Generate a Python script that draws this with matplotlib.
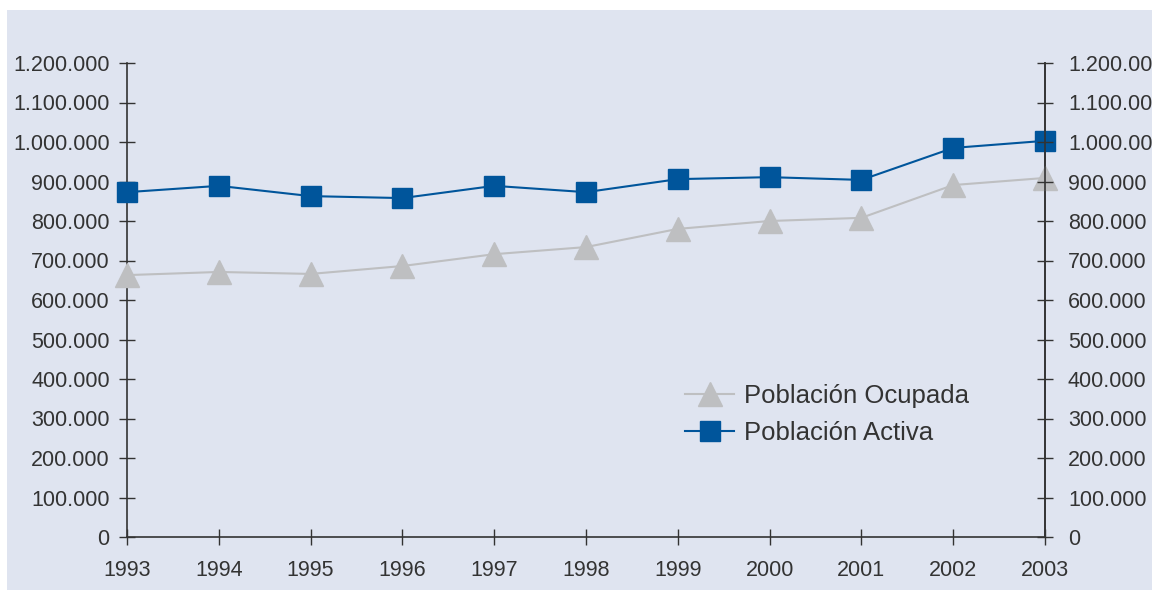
import matplotlib
matplotlib.use('Agg')
import matplotlib.pyplot as plt
from matplotlib.patches import Rectangle
from matplotlib.ticker import FuncFormatter, MultipleLocator

years = [1993, 1994, 1995, 1996, 1997, 1998, 1999, 2000, 2001, 2002, 2003]
ocupada = [663000, 671000, 666000, 686000, 716000, 734000, 780000, 800000, 808000, 891000, 909000]
activa = [873000, 889000, 863000, 858000, 889000, 873000, 906000, 911000, 904000, 985000, 1003000]

plt.rcParams['font.family'] = ['Liberation Sans', 'DejaVu Sans']
txt = '#333333'
bg = '#dfe4f0'

fig = plt.figure(figsize=(11.52, 5.91), dpi=100)
fig.patches.append(Rectangle((7/1152, 1/591), 1, (580)/591, transform=fig.transFigure,
                             facecolor=bg, edgecolor='none', zorder=-10))
ax = fig.add_axes([127/1152, (591-537)/591, (1045-127)/1152, (537-63)/591])
ax.set_facecolor('none')

ax.plot(years, ocupada, color='#bebfc1', lw=1.5, marker='^', markersize=17,
        label='Población Ocupada', clip_on=False, zorder=3)
ax.plot(years, activa, color='#00559b', lw=1.5, marker='s', markersize=14,
        label='Población Activa', clip_on=False, zorder=4)

ax.set_xlim(1993, 2003)
ax.set_ylim(0, 1200000)
ax.set_xticks(years)
ax.yaxis.set_major_locator(MultipleLocator(100000))
fmt = FuncFormatter(lambda v, p: f'{int(v):,}'.replace(',', '.'))
ax.yaxis.set_major_formatter(fmt)

ax.spines['top'].set_visible(False)
for s in ['left', 'bottom', 'right']:
    ax.spines[s].set_color(txt)
    ax.spines[s].set_linewidth(1.2)

# right-hand copy of the y axis (labels run off the page edge, as in the original)
ax2 = ax.twinx()
ax2.set_ylim(ax.get_ylim())
ax2.yaxis.set_major_locator(MultipleLocator(100000))
ax2.yaxis.set_major_formatter(fmt)
for s in ['top', 'left', 'bottom']:
    ax2.spines[s].set_visible(False)
ax2.spines['right'].set_color(txt)
ax2.spines['right'].set_linewidth(1.2)

ax.tick_params(axis='y', direction='inout', length=11, width=1, colors=txt,
               labelsize=15.5, pad=7)
ax2.tick_params(axis='y', direction='inout', length=11, width=1, colors=txt,
                labelsize=15.5, pad=11)
ax.tick_params(axis='x', direction='inout', length=11, width=1, colors=txt,
               labelsize=15.5, pad=11)

leg = ax.legend(loc='lower left', bbox_to_anchor=(0.583, 0.145), frameon=False,
                fontsize=18.5, handlelength=1.9, handletextpad=0.4,
                labelspacing=0.5, labelcolor=txt)

fig.savefig('out.png', dpi=100)
